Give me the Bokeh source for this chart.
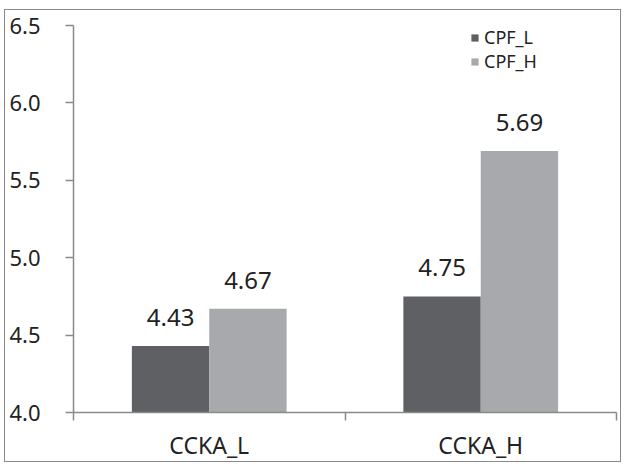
from bokeh.plotting import figure
from bokeh.models import (ColumnDataSource, Range1d, FixedTicker, PrintfTickFormatter,
                          Legend, LegendItem, LabelSet)
from bokeh.core.properties import value
from bokeh.embed import file_html
from bokeh.resources import INLINE

categories = ["CCKA_L", "CCKA_H"]
series_names = ["CPF_L", "CPF_H"]
cpf_l = [4.43, 4.75]
cpf_h = [4.67, 5.69]
colors = ["#5f6064", "#a8a9ac"]
y_ticks = [4.0, 4.5, 5.0, 5.5, 6.0, 6.5]

FONT = "Noto Sans"
bar_w = 0.285

centers = [i + 0.5 for i in range(len(categories))]
x_l = [c - bar_w / 2 for c in centers]
x_h = [c + bar_w / 2 for c in centers]

src_l = ColumnDataSource(dict(x=x_l, top=cpf_l, lab=[f"{v:.2f}" for v in cpf_l]))
src_h = ColumnDataSource(dict(x=x_h, top=cpf_h, lab=[f"{v:.2f}" for v in cpf_h]))

p = figure(width=617, height=453, output_backend="svg", toolbar_location=None,
           x_range=Range1d(0, len(categories)), y_range=Range1d(4.0, 6.5),
           min_border_left=68, min_border_right=6, min_border_top=15, min_border_bottom=44)
p.styles = {"border": "1.5px solid #8a8a8a", "box-sizing": "border-box",
            "margin-left": "4px", "margin-top": "9px"}
p.outline_line_color = None
p.grid.visible = False
p.background_fill_color = "white"
p.border_fill_color = "white"

r1 = p.vbar(x="x", top="top", bottom=4.0, width=bar_w, source=src_l,
            fill_color=colors[0], line_color=None)
r2 = p.vbar(x="x", top="top", bottom=4.0, width=bar_w, source=src_h,
            fill_color=colors[1], line_color=None)

for src in (src_l, src_h):
    p.add_layout(LabelSet(x="x", y="top", text="lab", source=src, text_align="center",
                          text_baseline="bottom", y_offset=20, text_font=value(FONT),
                          text_font_size="24px", text_color="#222222"))

# y axis
ya = p.yaxis[0]
ya.ticker = FixedTicker(ticks=y_ticks, minor_ticks=[])
ya.formatter = PrintfTickFormatter(format="%.1f")
ya.axis_line_color = "#8a8a8a"
ya.axis_line_width = 1.5
ya.major_tick_line_color = "#8a8a8a"
ya.major_tick_line_width = 1.5
ya.major_tick_out = 8
ya.major_tick_in = 0
ya.major_label_standoff = 25
ya.major_label_text_font = FONT
ya.major_label_text_font_size = "22px"
ya.major_label_text_color = "#222222"

# x axis
xa = p.xaxis[0]
xa.ticker = FixedTicker(ticks=centers, minor_ticks=[float(i) for i in range(len(categories) + 1)])
xa.major_label_overrides = {c: name for c, name in zip(centers, categories)}
xa.axis_line_color = "#8a8a8a"
xa.axis_line_width = 1.5
xa.major_tick_line_color = None
xa.major_tick_out = 0
xa.major_tick_in = 0
xa.minor_tick_line_color = "#8a8a8a"
xa.minor_tick_line_width = 1.5
xa.minor_tick_out = 8
xa.minor_tick_in = 0
xa.major_label_standoff = 8
xa.major_label_text_font = FONT
xa.major_label_text_font_size = "23px"
xa.major_label_text_color = "#222222"

legend = Legend(items=[LegendItem(label=series_names[0], renderers=[r1]),
                       LegendItem(label=series_names[1], renderers=[r2])],
                glyph_width=9, glyph_height=9, label_standoff=5, label_height=22,
                spacing=0, padding=2, margin=0, border_line_color=None,
                background_fill_alpha=0, label_text_font=FONT,
                label_text_font_size="18px", label_text_color="#222222")
legend.location = (397, 339)
p.add_layout(legend)

open("out.html", "w").write(file_html(p, INLINE))
